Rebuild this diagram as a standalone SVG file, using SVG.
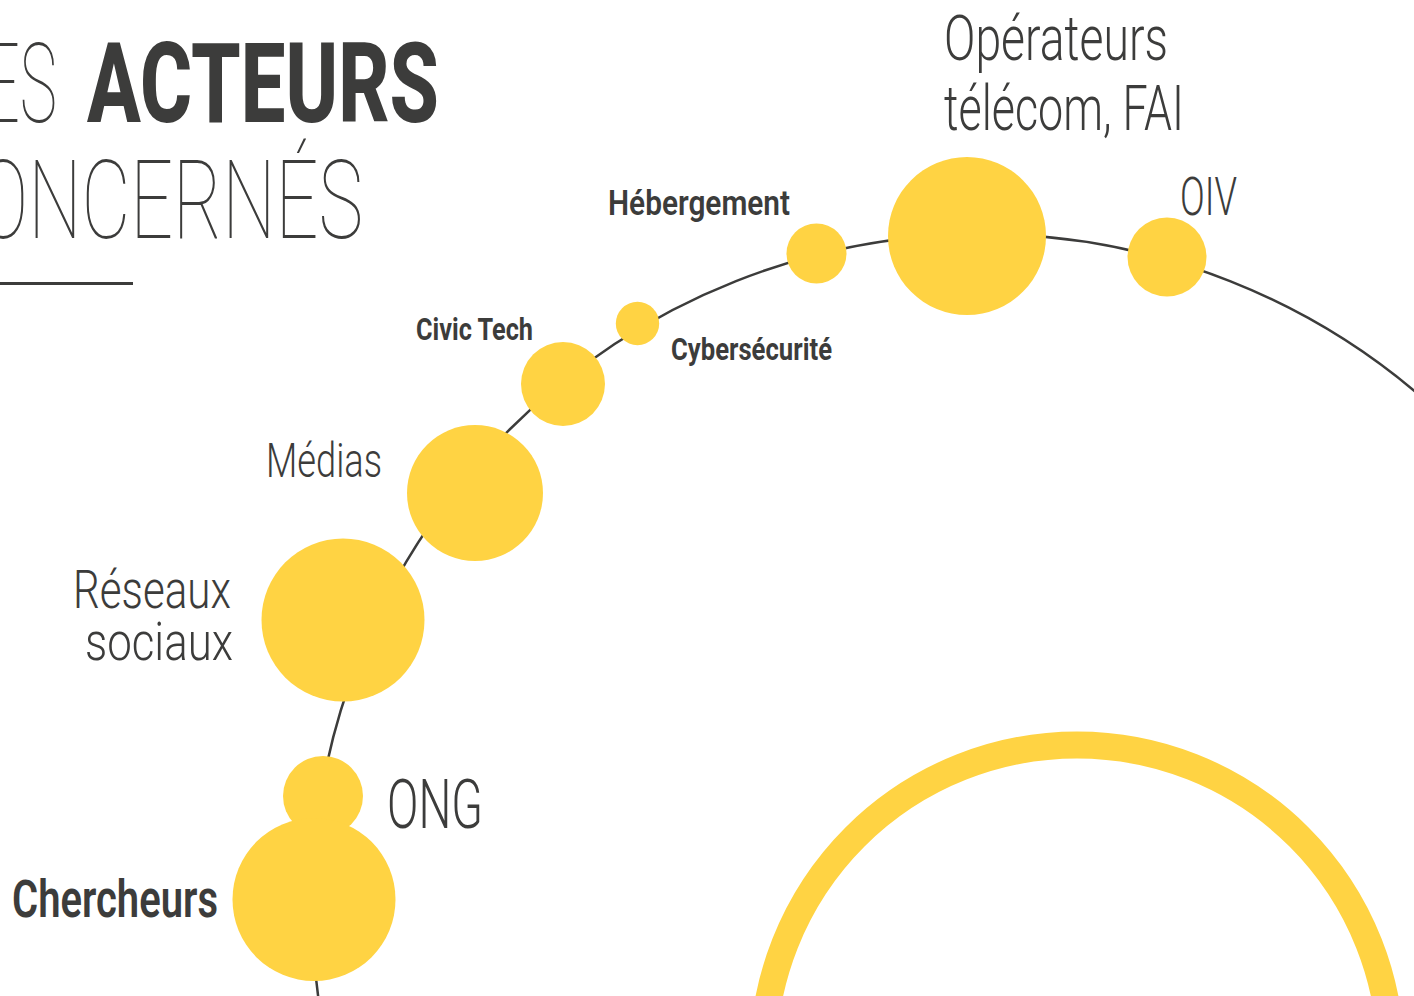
<svg xmlns="http://www.w3.org/2000/svg" width="1414" height="996" viewBox="0 0 1414 996">
<style>
.dot{fill:#FFD343}
.t{fill:#3C3C3B;font-family:Roboto,"Liberation Sans",sans-serif}
.lt{font-weight:300}
.th{font-weight:100}
.sb{font-weight:600}
.bd{font-weight:700}
</style>
<rect x="0" y="0" width="1414" height="996" fill="#FFFFFF"/>
<g id="title">
<text class="t th" x="-16" y="122" font-size="111" textLength="73" lengthAdjust="spacingAndGlyphs">ES</text>
<text class="t" x="87" y="122" font-size="111" font-weight="800" textLength="352" lengthAdjust="spacingAndGlyphs">ACTEURS</text>
<text class="t th" x="-22" y="238" font-size="110" textLength="385" lengthAdjust="spacingAndGlyphs">ONCERNÉS</text>
<rect x="0" y="282" width="133" height="3" fill="#3C3C3B"/>
</g>
<g id="connectors">
<circle cx="983" cy="905" r="671" fill="none" stroke="#3C3C3B" stroke-width="2.5"/>
</g>
<g id="ring">
<circle cx="1077" cy="1059" r="314" fill="none" stroke="#FFD343" stroke-width="27"/>
</g>
<g id="node-operateurs">
<circle class="dot" cx="967" cy="236" r="79"/>
<text class="t lt" x="944" y="60" font-size="63" textLength="224" lengthAdjust="spacingAndGlyphs">Opérateurs</text>
<text class="t lt" x="944" y="130" font-size="63" textLength="240" lengthAdjust="spacingAndGlyphs">télécom, FAI</text>
</g>
<g id="node-oiv">
<circle class="dot" cx="1167" cy="257" r="39.5"/>
<text class="t lt" x="1180" y="215" font-size="53" textLength="57" lengthAdjust="spacingAndGlyphs">OIV</text>
</g>
<g id="node-hebergement">
<circle class="dot" cx="816.5" cy="253.5" r="30"/>
<text class="t sb" x="608" y="215" font-size="35" textLength="182" lengthAdjust="spacingAndGlyphs">Hébergement</text>
</g>
<g id="node-cybersecurite">
<circle class="dot" cx="637.5" cy="323.5" r="21.7"/>
<text class="t bd" x="671" y="360" font-size="31" textLength="161" lengthAdjust="spacingAndGlyphs">Cybersécurité</text>
</g>
<g id="node-civictech">
<circle class="dot" cx="563" cy="384" r="42"/>
<text class="t bd" x="416" y="340" font-size="32" textLength="117" lengthAdjust="spacingAndGlyphs">Civic Tech</text>
</g>
<g id="node-medias">
<circle class="dot" cx="475" cy="493" r="68"/>
<text class="t lt" x="266" y="477" font-size="49" textLength="116" lengthAdjust="spacingAndGlyphs">Médias</text>
</g>
<g id="node-reseaux">
<circle class="dot" cx="343" cy="620" r="81.5"/>
<text class="t lt" x="73" y="608" font-size="53" textLength="158" lengthAdjust="spacingAndGlyphs">Réseaux</text>
<text class="t lt" x="85" y="660" font-size="53" textLength="148" lengthAdjust="spacingAndGlyphs">sociaux</text>
</g>
<g id="node-ong">
<circle class="dot" cx="323" cy="796" r="40"/>
<text class="t lt" x="387" y="828" font-size="69" textLength="96" lengthAdjust="spacingAndGlyphs">ONG</text>
</g>
<g id="node-chercheurs">
<circle class="dot" cx="314" cy="899.5" r="81.5"/>
<text class="t sb" x="12" y="917" font-size="51" textLength="206" lengthAdjust="spacingAndGlyphs">Chercheurs</text>
</g>
</svg>
